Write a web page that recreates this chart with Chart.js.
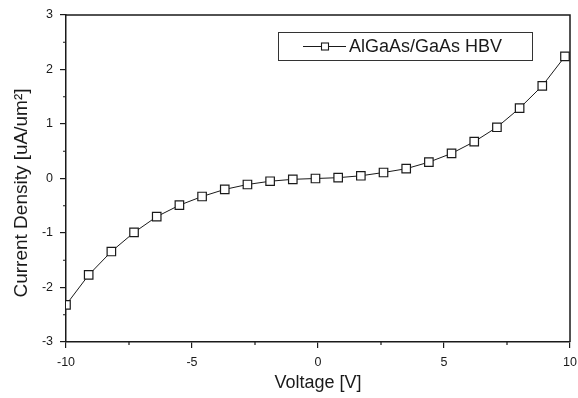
<!DOCTYPE html>
<html lang="en">
<head>
    <meta charset="UTF-8">
    <title>AlGaAs/GaAs HBV I-V</title>
    <script src="https://cdn.jsdelivr.net/npm/chart.js"></script>
    <style>
        body { margin: 0; background: #ffffff; }
        .chart-box { position: relative; width: 578px; height: 398px; }
    </style>
</head>
<body>
    <div class="chart-box">
        <canvas id="ivChart"></canvas>
    </div>

    <script>
        // data
        const seriesLabel = 'AlGaAs/GaAs HBV';
        const yTitle = 'Current Density [uA/um\u00B2]';
        const voltage = [-10, -9.1, -8.2, -7.3, -6.4, -5.5, -4.6, -3.7, -2.8, -1.9, -1.0, -0.1,
                         0.8, 1.7, 2.6, 3.5, 4.4, 5.3, 6.2, 7.1, 8.0, 8.9, 9.8];
        const current = [-2.32, -1.77, -1.34, -0.99, -0.70, -0.49, -0.33, -0.20, -0.11, -0.05, -0.015, 0.0,
                         0.015, 0.05, 0.11, 0.18, 0.30, 0.46, 0.675, 0.94, 1.29, 1.70, 2.24];
        const xTickLabels = [-10, -5, 0, 5, 10];
        const yTickLabels = [-3, -2, -1, 0, 1, 2, 3];

        const FONT = '"Liberation Sans", Arial, sans-serif';
        const INK = '#1a1a1a';

        // frame on top/right, short minor ticks, y title and the boxed legend
        const framePlugin = {
            id: 'frame',
            afterDraw(chart) {
                const { ctx, chartArea: a, scales } = chart;
                ctx.save();
                ctx.strokeStyle = INK;
                ctx.lineWidth = 1.5;
                ctx.beginPath();
                ctx.moveTo(a.left, a.top);
                ctx.lineTo(a.right, a.top);
                ctx.lineTo(a.right, a.bottom);
                ctx.stroke();

                // minor ticks
                ctx.lineWidth = 1.2;
                ctx.beginPath();
                scales.x.ticks.forEach(t => {
                    if (t.value % 5 !== 0) {
                        const px = scales.x.getPixelForValue(t.value);
                        ctx.moveTo(px, a.bottom);
                        ctx.lineTo(px, a.bottom + 3);
                    }
                });
                scales.y.ticks.forEach(t => {
                    if (t.value % 1 !== 0) {
                        const py = scales.y.getPixelForValue(t.value);
                        ctx.moveTo(a.left, py);
                        ctx.lineTo(a.left - 3, py);
                    }
                });
                ctx.stroke();

                // y axis title (sits a bit below the plot centre in the original)
                ctx.save();
                ctx.translate(22, 193);
                ctx.rotate(-Math.PI / 2);
                ctx.fillStyle = INK;
                ctx.font = '19px ' + FONT;
                ctx.textAlign = 'center';
                ctx.textBaseline = 'middle';
                ctx.fillText(yTitle, 0, 0);
                ctx.restore();

                // legend
                const bx = 278, by = 32, bw = 254, bh = 28;
                ctx.lineWidth = 1;
                ctx.strokeStyle = '#333';
                ctx.strokeRect(bx + 0.5, by + 0.5, bw, bh);
                const cy = by + bh / 2 + 0.5;
                ctx.strokeStyle = INK;
                ctx.beginPath();
                ctx.moveTo(303, cy);
                ctx.lineTo(346, cy);
                ctx.stroke();
                ctx.fillStyle = '#fff';
                ctx.fillRect(321.5, cy - 3.5, 7, 7);
                ctx.lineWidth = 1.1;
                ctx.strokeRect(321.5, cy - 3.5, 7, 7);
                ctx.fillStyle = INK;
                ctx.font = '18px ' + FONT;
                ctx.textBaseline = 'middle';
                ctx.textAlign = 'left';
                ctx.fillText(seriesLabel, 349, cy + 1);
                ctx.restore();
            }
        };

        const ctx = document.getElementById('ivChart').getContext('2d');

        new Chart(ctx, {
            type: 'line',
            data: {
                datasets: [{
                    label: seriesLabel,
                    data: voltage.map((v, i) => ({ x: v, y: current[i] })),
                    borderColor: INK,
                    borderWidth: 1,
                    pointStyle: 'rect',
                    pointRadius: 6,
                    pointBorderWidth: 1.2,
                    pointBorderColor: INK,
                    pointBackgroundColor: '#ffffff',
                    tension: 0
                }]
            },
            options: {
                responsive: true,
                maintainAspectRatio: false,
                animation: false,
                layout: { padding: { top: 15, right: 8, left: 0, bottom: 0 } },
                plugins: {
                    legend: { display: false },
                    tooltip: { enabled: false }
                },
                scales: {
                    x: {
                        type: 'linear',
                        min: -10,
                        max: 10,
                        afterFit: s => { s.height = 56; s.paddingLeft = 0; s.paddingRight = 0; },
                        ticks: {
                            stepSize: 2.5,
                            color: INK,
                            padding: 7,
                            maxRotation: 0,
                            autoSkip: false,
                            font: { family: FONT, size: 12.5 },
                            callback: v => xTickLabels.includes(v) ? String(v) : ''
                        },
                        grid: {
                            drawOnChartArea: false,
                            tickLength: 6,
                            lineWidth: 1.2,
                            tickColor: c => (c.tick && c.tick.value % 5 === 0) ? INK : 'rgba(0,0,0,0)'
                        },
                        border: { color: INK, width: 1.5 },
                        title: {
                            display: true,
                            text: 'Voltage [V]',
                            color: INK,
                            font: { family: FONT, size: 18 },
                            padding: { top: 0, bottom: 4 }
                        }
                    },
                    y: {
                        min: -3,
                        max: 3,
                        afterFit: s => { s.width = 66; s.paddingTop = 0; s.paddingBottom = 0; },
                        ticks: {
                            stepSize: 0.5,
                            color: INK,
                            padding: 7,
                            autoSkip: false,
                            font: { family: FONT, size: 12.5 },
                            callback: v => yTickLabels.includes(v) ? String(v) : ''
                        },
                        grid: {
                            drawOnChartArea: false,
                            tickLength: 6,
                            lineWidth: 1.2,
                            tickColor: c => (c.tick && c.tick.value % 1 === 0) ? INK : 'rgba(0,0,0,0)'
                        },
                        border: { color: INK, width: 1.5 },
                        title: { display: false }
                    }
                }
            },
            plugins: [framePlugin]
        });
    </script>
</body>
</html>
